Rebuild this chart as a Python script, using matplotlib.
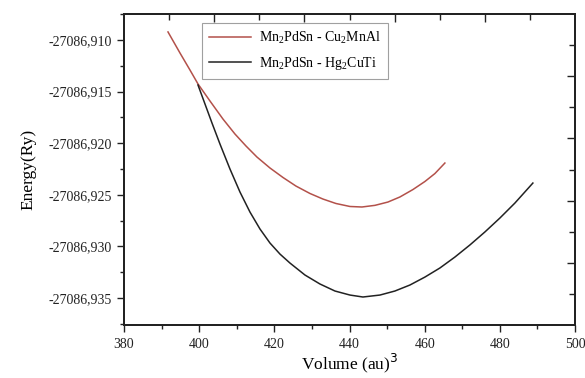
import numpy as np
import matplotlib.pyplot as plt
from matplotlib.ticker import FuncFormatter, MultipleLocator, FixedLocator
from matplotlib.font_manager import FontProperties

# data
vol_cu2mnal = [391.70, 394.89, 397.55, 399.68, 402.87, 406.33, 409.52, 412.45, 415.37, 418.83,
               422.29, 425.74, 429.47, 432.93, 436.38, 440.11, 443.30, 446.76, 450.21, 453.40,
               456.86, 460.05, 462.71, 465.37]
e_cu2mnal = [-27086.90922, -27086.91126, -27086.91291, -27086.91426, -27086.91591, -27086.91766,
             -27086.91911, -27086.92027, -27086.92134, -27086.92240, -27086.92332, -27086.92415,
             -27086.92487, -27086.92541, -27086.92584, -27086.92613, -27086.92618, -27086.92602,
             -27086.92570, -27086.92521, -27086.92449, -27086.92371, -27086.92294, -27086.92192]

vol_hg2cuti = [399.68, 401.54, 403.40, 405.53, 408.19, 410.85, 413.51, 416.17, 418.83, 421.49,
               424.15, 428.14, 432.13, 436.12, 440.11, 443.56, 448.09, 452.07, 456.06, 460.05,
               464.04, 468.03, 472.02, 476.01, 480.00, 483.99, 488.78]
e_hg2cuti = [-27086.91436, -27086.91620, -27086.91804, -27086.92008, -27086.92250, -27086.92473,
             -27086.92667, -27086.92831, -27086.92967, -27086.93074, -27086.93161, -27086.93277,
             -27086.93364, -27086.93432, -27086.93471, -27086.93490, -27086.93471, -27086.93432,
             -27086.93374, -27086.93297, -27086.93209, -27086.93103, -27086.92986, -27086.92860,
             -27086.92725, -27086.92580, -27086.92386]

labels = ['Mn$_2$PdSn - Cu$_2$MnAl', 'Mn$_2$PdSn - Hg$_2$CuTi']

plt.rcParams['font.family'] = 'Liberation Serif'
plt.rcParams['mathtext.fontset'] = 'custom'
plt.rcParams['mathtext.rm'] = 'Liberation Serif'
plt.rcParams['mathtext.it'] = 'Liberation Serif:italic'

fig = plt.figure(figsize=(5.85, 3.78), dpi=100)
ax = fig.add_axes([0.212, 0.140, 0.771, 0.823])

ax.plot(vol_cu2mnal, e_cu2mnal, color='#b3514a', lw=1.1, label=labels[0])
ax.plot(vol_hg2cuti, e_hg2cuti, color='#222222', lw=1.1, label=labels[1])

ax.set_xlim(380, 500)
ax.set_ylim(-27086.93762, -27086.90748)
ax.xaxis.set_major_locator(MultipleLocator(20))
ax.xaxis.set_minor_locator(MultipleLocator(10))
ax.yaxis.set_major_locator(FixedLocator([-27086.935, -27086.930, -27086.925, -27086.920, -27086.915, -27086.910]))
ax.yaxis.set_minor_locator(FixedLocator([-27086.9375, -27086.9325, -27086.9275, -27086.9225,
                                          -27086.9175, -27086.9125, -27086.9075]))
ax.yaxis.set_major_formatter(FuncFormatter(lambda v, p: ('%.3f' % v).replace('.', ',')))
ax.tick_params(which='major', direction='out', length=5, width=1, labelsize=10, colors='#222222')
ax.tick_params(which='minor', direction='out', length=3, width=1, colors='#222222')
ax.tick_params(axis='x', pad=4)

for s in ax.spines.values():
    s.set_linewidth(1.2)
    s.set_color('#222222')

# mirrored inner ticks on top and right
axr = ax.twinx()
axr.set_ylim(0, 10)
axr.yaxis.set_major_locator(FixedLocator([2, 4, 6, 8]))
axr.yaxis.set_minor_locator(FixedLocator([1, 3, 5, 7, 9]))
axr.tick_params(which='major', direction='in', length=6, width=1, labelright=False, colors='#222222')
axr.tick_params(which='minor', direction='in', length=4, width=1, colors='#222222')
axt = ax.twiny()
axt.set_xlim(0, 10)
axt.xaxis.set_major_locator(FixedLocator([2, 4, 6, 8]))
axt.xaxis.set_minor_locator(FixedLocator([1, 3, 5, 7, 9]))
axt.tick_params(which='major', direction='in', length=6, width=1, labeltop=False, colors='#222222')
axt.tick_params(which='minor', direction='in', length=4, width=1, colors='#222222')
for a in (axr, axt):
    for s in a.spines.values():
        s.set_linewidth(1.2)
        s.set_color('#222222')

ax.set_xlabel('Volume (au)$^3$', fontsize=12.5, math_fontfamily='dejavusans', labelpad=1)
ax.set_ylabel('Energy(Ry)', fontsize=12.5, labelpad=9)

leg_font = FontProperties(family='Liberation Serif', size=10)
leg = ax.legend(loc='upper left', bbox_to_anchor=(0.173, 0.97), prop=leg_font, frameon=True,
                fancybox=False, edgecolor='#888888', handlelength=3.0, borderpad=0.5,
                labelspacing=0.6, handletextpad=0.6, borderaxespad=0)
leg.get_frame().set_linewidth(0.8)

fig.savefig('out.png', dpi=100)
